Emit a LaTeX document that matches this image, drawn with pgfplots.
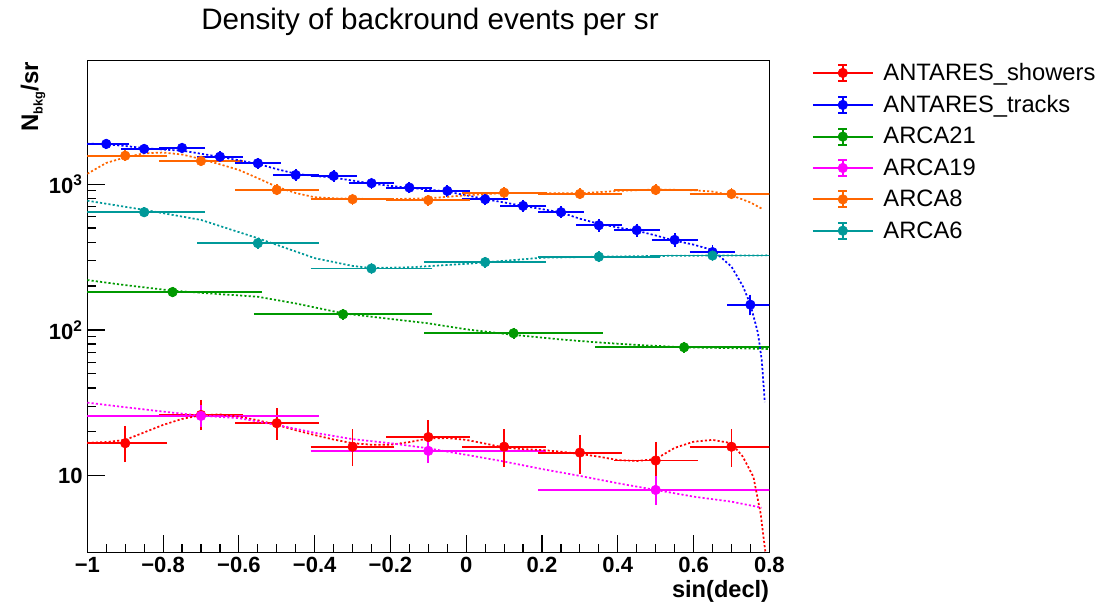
\documentclass[border=0pt]{standalone}
\usepackage{fontspec}
\setmainfont{Liberation Sans}
\usepackage{pgfplots}
\usepackage{pgfplotstable}
\pgfplotsset{compat=1.18}

\definecolor{cRed}{RGB}{255,0,0}
\definecolor{cBlue}{RGB}{0,0,255}
\definecolor{cGreen}{RGB}{0,153,0}
\definecolor{cMag}{RGB}{255,0,255}
\definecolor{cOrange}{RGB}{255,102,0}
\definecolor{cTeal}{RGB}{0,153,153}

% ANTARES_showers
\pgfplotstableread{
x y ex eu ed
-0.9 16.7 0.1 3.9 3.5
-0.7 26.1 0.1 5.0 4.2
-0.5 22.9 0.1 4.3 4.1
-0.3 15.8 0.1 3.7 3.4
-0.1 18.4 0.1 4.1 3.2
0.1 15.8 0.1 3.7 3.5
0.3 14.4 0.1 3.4 3.5
0.5 12.7 0.1 3.3 3.2
0.7 15.8 0.1 3.7 3.5
}\showers
\pgfplotstableread{
x y
-1 16.8
-0.95 17.0
-0.9 17.6
-0.85 19.8
-0.8 22.3
-0.75 24.5
-0.7 26.0
-0.65 26.3
-0.6 25.4
-0.55 24.0
-0.5 22.3
-0.45 20.5
-0.4 19.0
-0.35 17.7
-0.3 16.7
-0.25 16.3
-0.2 16.3
-0.15 17.0
-0.1 18.0
-0.05 18.1
0 17.6
0.05 16.6
0.1 15.6
0.15 15.2
0.2 15.0
0.25 14.6
0.3 14.1
0.35 13.5
0.4 12.8
0.45 12.6
0.5 13.0
0.55 15.5
0.6 17.1
0.65 17.6
0.7 16.7
0.73 13.5
0.758 9.8
0.777 5.5
0.789 3.07
0.793 2.5
}\showersfit

% ANTARES_tracks
\pgfplotstableread{
x y ex eu ed
-0.95 1891 0.05 40 40
-0.85 1746 0.05 38 38
-0.75 1774 0.05 38 38
-0.65 1545 0.05 35 35
-0.55 1393 0.05 33 33
-0.45 1158 0.05 30 30
-0.35 1140 0.05 30 30
-0.25 1016 0.05 28 28
-0.15 948 0.05 27 27
-0.05 900 0.05 26 26
0.05 789 0.05 25 25
0.15 710 0.05 23 23
0.25 643 0.05 22 22
0.35 523 0.05 20 20
0.45 484 0.05 19 19
0.55 415 0.05 18 18
0.65 342 0.05 16 16
0.75 149 0.05 15 15
}\tracks
\pgfplotstableread{
x y
-1 1900
-0.95 1880
-0.9 1830
-0.85 1770
-0.8 1730
-0.75 1700
-0.7 1620
-0.65 1540
-0.6 1460
-0.55 1380
-0.5 1270
-0.45 1180
-0.4 1140
-0.35 1110
-0.3 1060
-0.25 1010
-0.2 975
-0.15 945
-0.1 920
-0.05 890
0 840
0.05 790
0.1 750
0.15 710
0.2 675
0.25 640
0.3 580
0.35 535
0.4 505
0.45 480
0.5 445
0.55 410
0.6 385
0.65 354
0.7 272
0.73 200
0.75 150
0.77 95
0.78 62
0.788 32
}\tracksfit

% ARCA21
\pgfplotstableread{
x y ex eu ed
-0.775 182 0.225 4 4
-0.325 128 0.225 3 3
0.125 94.9 0.225 2.5 2.5
0.575 76 0.225 2.2 2.2
}\arcaA
\pgfplotstableread{
x y
-1 220
-0.9 203
-0.775 186
-0.65 176
-0.55 169
-0.45 152
-0.325 130
-0.2 119
-0.1 111
0 101
0.125 92.5
0.25 86
0.35 82
0.45 79
0.575 76
0.7 75
0.8 74
}\arcaAfit

% ARCA19
\pgfplotstableread{
x y ex eu ed
-0.7 25.7 0.3 2.8 2.6
-0.1 14.8 0.3 1.6 1.8
0.5 7.98 0.3 1.4 1.3
}\arcaB
\pgfplotstableread{
x y
-1 31.7
-0.9 29.5
-0.8 27.5
-0.7 25.8
-0.6 24.8
-0.5 22.3
-0.4 19.7
-0.3 17.8
-0.2 16.7
-0.1 15.4
0 13.9
0.1 12.5
0.2 11.1
0.3 9.96
0.4 8.87
0.5 7.98
0.6 7.18
0.7 6.63
0.78 6.03
}\arcaBfit

% ARCA8
\pgfplotstableread{
x y ex eu ed
-0.9 1570 0.1 30 30
-0.7 1445 0.1 28 28
-0.5 914 0.1 22 22
-0.3 789 0.1 20 20
-0.1 777 0.1 20 20
0.1 876 0.1 21 21
0.3 858 0.1 21 21
0.5 914 0.1 22 22
0.7 858 0.1 21 21
}\arcaC
\pgfplotstableread{
x y
-1 1180
-0.95 1400
-0.9 1530
-0.85 1630
-0.8 1650
-0.75 1600
-0.7 1490
-0.65 1370
-0.6 1253
-0.55 1100
-0.5 960
-0.45 870
-0.4 814
-0.35 800
-0.3 795
-0.2 790
-0.1 800
0 840
0.1 870
0.2 870
0.3 865
0.4 900
0.5 920
0.6 910
0.65 890
0.7 840
0.75 750
0.78 680
}\arcaCfit

% ARCA6
\pgfplotstableread{
x y ex eu ed
-0.85 643 0.15 12 12
-0.55 394 0.15 9 9
-0.25 264 0.15 7 7
0.05 292 0.15 7 7
0.35 318 0.15 8 8
0.65 324 0.15 8 8
}\arcaD
\pgfplotstableread{
x y
-1 771
-0.85 667
-0.7 569
-0.55 426
-0.4 311
-0.3 275
-0.25 266
-0.15 269
0 284
0.1 298
0.2 313
0.35 318
0.5 322
0.65 324
0.8 325
}\arcaDfit

\pgfplotsset{
  dataplot/.style={
    color=#1, solid, only marks, mark=*, mark size=3.6pt,
    mark options={solid, fill=#1},
    error bars/.cd,
      x dir=both, x explicit,
      y dir=both, y explicit,
      error bar style={line width=1.4pt, solid, #1},
      error mark options={line width=1.4pt, solid, mark size=3pt, #1},
  },
  fitplot/.style={
    color=#1, no marks, line width=1.3pt,
    dash pattern=on 1.6pt off 1.6pt, forget plot
  },
}

\begin{document}
\begin{tikzpicture}
\useasboundingbox (0,0) rectangle (834pt,454.5pt);
\begin{axis}[
  at={(65.5pt,40.3pt)}, anchor=south west,
  scale only axis, width=511.5pt, height=368.7pt,
  xmin=-1, xmax=0.8,
  ymode=log, ymin=2.98, ymax=7050,
  axis line style={line width=0.9pt, black},
  tick style={line width=0.9pt, black},
  tick align=inside,
  xtick pos=bottom, ytick pos=left,
  xtick={-1,-0.8,-0.6,-0.4,-0.2,0,0.2,0.4,0.6,0.8},
  xticklabels={−1,−0.8,−0.6,−0.4,−0.2,0,0.2,0.4,0.6,0.8},
  minor x tick num=3,
  ytick={10,100,1000},
  yticklabels={10,10\textsuperscript{2},10\textsuperscript{3}},
  major tick length=13pt,
  minor tick length=6.5pt,
  ticklabel style={font=\bfseries\fontsize{16.5}{19}\selectfont},
  /pgf/number format/assume math mode=true,
  legend style={at={(1.062,1.0005)}, anchor=north west, draw=none, fill=none,
    font=\fontsize{17.8}{21}\selectfont, row sep=5.6pt,
    inner sep=0pt},
  legend cell align=left,
  legend image code/.code={
    \path[draw=none, fill=none] (0pt,0pt) -- (51pt,0pt);
    \draw[line width=1.4pt] (0pt,0pt) -- (45pt,0pt);
    \draw[line width=1.4pt] (22.5pt,-6pt) -- (22.5pt,6pt);
    \draw[line width=1.4pt] (19pt,6pt) -- (26pt,6pt);
    \draw[line width=1.4pt] (19pt,-6pt) -- (26pt,-6pt);
    \fill (22.5pt,0pt) circle (3.6pt);
  },
]
\addplot[dataplot=cRed] table[x=x,y=y,x error=ex,y error plus=eu,y error minus=ed]{\showers};
\addlegendentry{ANTARES\_showers}
\addplot[dataplot=cBlue] table[x=x,y=y,x error=ex,y error plus=eu,y error minus=ed]{\tracks};
\addlegendentry{ANTARES\_tracks}
\addplot[dataplot=cGreen] table[x=x,y=y,x error=ex,y error plus=eu,y error minus=ed]{\arcaA};
\addlegendentry{ARCA21}
\addplot[dataplot=cMag] table[x=x,y=y,x error=ex,y error plus=eu,y error minus=ed]{\arcaB};
\addlegendentry{ARCA19}
\addplot[dataplot=cOrange] table[x=x,y=y,x error=ex,y error plus=eu,y error minus=ed]{\arcaC};
\addlegendentry{ARCA8}
\addplot[dataplot=cTeal] table[x=x,y=y,x error=ex,y error plus=eu,y error minus=ed]{\arcaD};
\addlegendentry{ARCA6}

\addplot[fitplot=cRed] table[x=x,y=y]{\showersfit};
\addplot[fitplot=cBlue] table[x=x,y=y]{\tracksfit};
\addplot[fitplot=cGreen] table[x=x,y=y]{\arcaAfit};
\addplot[fitplot=cMag] table[x=x,y=y]{\arcaBfit};
\addplot[fitplot=cOrange] table[x=x,y=y]{\arcaCfit};
\addplot[fitplot=cTeal] table[x=x,y=y]{\arcaDfit};
\end{axis}
\node[anchor=base, font=\fontsize{22.2}{26}\selectfont] at (322.5pt,432pt) {Density of backround events per sr};
\node[rotate=90, anchor=base east, inner sep=0pt, font=\bfseries\fontsize{18}{22}\selectfont] at (28.5pt,408pt) {N{\fontsize{9.5}{11}\selectfont\raisebox{-3.5pt}{bkg}}/sr};
\node[anchor=base east, inner sep=0pt, font=\bfseries\fontsize{17.7}{21}\selectfont] at (577pt,6.75pt) {sin(decl)};
\end{tikzpicture}
\end{document}
